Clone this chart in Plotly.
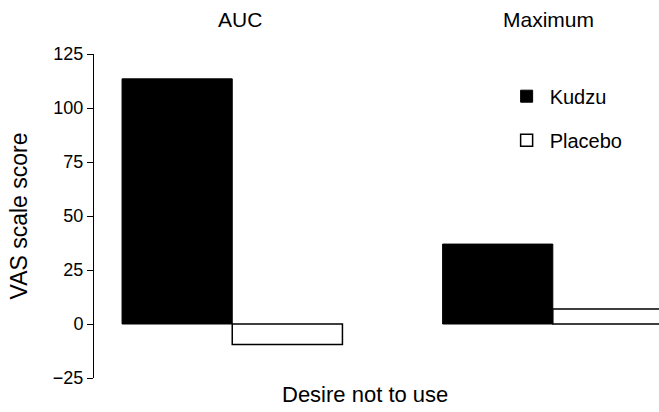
import plotly.graph_objects as go

# data
groups = ["AUC", "Maximum"]
kudzu = [113.5, 37]
placebo = [-9.5, 7]
y_ticks = [-25, 0, 25, 50, 75, 100, 125]

fig = go.Figure()
fig.add_trace(go.Bar(
    x=groups, y=kudzu, name="Kudzu",
    marker=dict(color="black", line=dict(color="black", width=1)),
    legendgroup="k",
))
fig.add_trace(go.Bar(
    x=groups, y=placebo, name="Placebo",
    marker=dict(color="white", line=dict(color="black", width=1.5)),
    legendgroup="p",
))

fig.update_layout(
    width=659, height=412,
    margin=dict(l=94, r=0, t=54, b=34),
    paper_bgcolor="white", plot_bgcolor="white",
    font=dict(family="Liberation Sans, Arial, sans-serif", color="black", size=18),
    barmode="group", bargap=0.3125, bargroupgap=0,
    showlegend=True,
    legend=dict(
        x=0.725, y=0.93, xanchor="left", yanchor="top",
        font=dict(size=20), tracegroupgap=15, itemwidth=36,
        bgcolor="rgba(0,0,0,0)",
    ),
    xaxis=dict(
        range=[-0.43125, 1.33125], showticklabels=False, ticks="",
        showline=False, showgrid=False, zeroline=False,
    ),
    yaxis=dict(
        range=[-25, 125], tickvals=y_ticks, ticks="outside", ticklen=6,
        tickcolor="black", showline=True, linecolor="black", linewidth=1,
        showgrid=False, zeroline=False, tickfont=dict(size=18),
        title=dict(text="VAS scale score", font=dict(size=23), standoff=18),
    ),
    annotations=[
        dict(text="AUC", x="AUC", xref="x", y=1, yref="paper", yanchor="middle",
             showarrow=False, xshift=8, yshift=35, font=dict(size=21)),
        dict(text="Maximum", x="Maximum", xref="x", y=1, yref="paper", yanchor="middle",
             showarrow=False, xshift=-4, yshift=35, font=dict(size=21)),
        dict(text="Desire not to use", x=0.48, xref="paper", y=0, yref="paper",
             yanchor="top", yshift=-2, showarrow=False, font=dict(size=22)),
    ],
)

fig.write_html("out.html", config={"displayModeBar": False},
               post_script="document.body.style.margin='0';")
